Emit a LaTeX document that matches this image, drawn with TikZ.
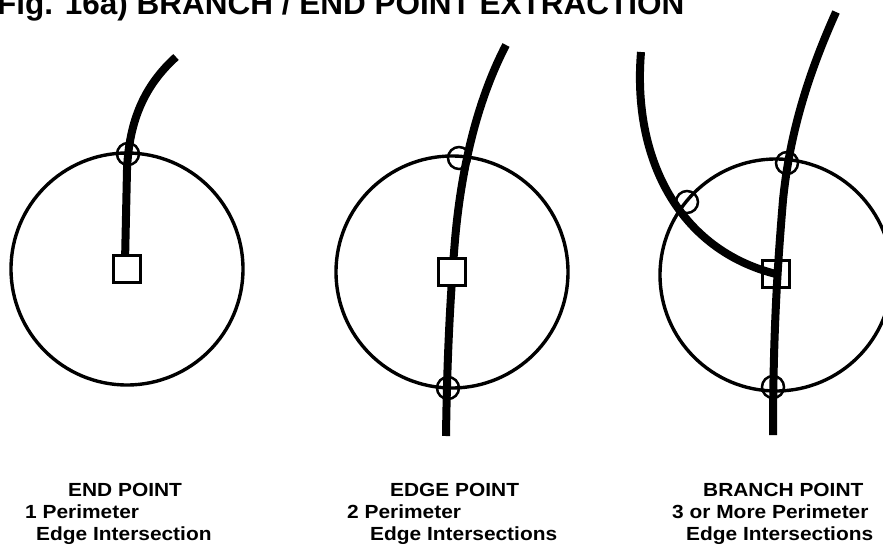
\documentclass[tikz,border=0pt]{standalone}
\usepackage{fontspec}
\usepackage{graphicx}
\newfontfamily\hv{Liberation Sans}
\newcommand\lbtext[1]{\scalebox{1.1}[1]{#1}}
\begin{document}
\begin{tikzpicture}[x=1pt,y=-1pt,
  ring/.style={circle, draw, line width=3.4pt, minimum size=232pt, inner sep=0pt},
  hitmark/.style={circle, draw, line width=2.5pt, minimum size=22pt, inner sep=0pt},
  sqbox/.style={rectangle, draw, line width=2.7pt, fill=white, minimum size=27pt, inner sep=0pt},
  curveline/.style={line width=8pt, line cap=butt},
  lbl/.style={anchor=base west, inner sep=0pt, font=\hv\bfseries\fontsize{19}{19}\selectfont},
  titlestyle/.style={anchor=base west, inner sep=0pt, font=\hv\bfseries\fontsize{31.5}{31.5}\selectfont}]
\useasboundingbox (0,0) rectangle (883,554);
\clip (0,0) rectangle (883,554);
\fill[white] (0,0) rectangle (883,554);

\node[titlestyle] (title) at (-3,14) {Fig. 16a) BRANCH / END POINT EXTRACTION};

% ---- left panel: end point
\node[ring] (c1) at (127,269) {};
\coordinate (l1top) at (176,57);
\draw[curveline] (125,262) -- (127,170) .. controls (129,120) and (145,85) .. (l1top);
\node[hitmark] (h1a) at (128,154) {};
\node[sqbox] (s1) at (127,269) {};

% ---- middle panel: edge point
\node[ring] (c2) at (452,272) {};
\coordinate (l2top) at (506,45);
\coordinate (l2mid) at (455,240);
\coordinate (l2bot) at (446,436);
\draw[curveline] (l2top) .. controls (480,95) and (462,160) .. (l2mid) .. controls (450,300) and (447,360) .. (l2bot);
\node[hitmark] (h2a) at (459,158) {};
\node[hitmark] (h2b) at (448,388) {};
\node[sqbox] (s2) at (452,272) {};

% ---- right panel: branch point
\node[ring] (c3) at (776,275) {};
\coordinate (l3top) at (836,12);
\coordinate (l3mid) at (783,200);
\coordinate (l3bot) at (773,435);
\coordinate (b3top) at (641,52);
\coordinate (b3end) at (776,274);
\draw[curveline] (l3top) .. controls (810,70) and (790,130) .. (l3mid) .. controls (778,260) and (773,330) .. (l3bot);
\draw[curveline] (b3top) .. controls (632,160) and (680,250) .. (b3end);
\node[hitmark] (h3a) at (787,163) {};
\node[hitmark] (h3b) at (773,387) {};
\node[hitmark] (h3c) at (687,202) {};
\node[sqbox, fill=none] (s3) at (776,274) {};

% ---- labels
\node[lbl] (t1a) at (68,496) {\lbtext{END POINT}};
\node[lbl] (t1b) at (25,518) {\lbtext{1 Perimeter}};
\node[lbl] (t1c) at (36,540) {\lbtext{Edge Intersection}};

\node[lbl] (t2a) at (390,496) {\lbtext{EDGE POINT}};
\node[lbl] (t2b) at (347,518) {\lbtext{2 Perimeter}};
\node[lbl] (t2c) at (370,540) {\lbtext{Edge Intersections}};

\node[lbl] (t3a) at (703,496) {\lbtext{BRANCH POINT}};
\node[lbl] (t3b) at (672,518) {\lbtext{3 or More Perimeter}};
\node[lbl] (t3c) at (686,540) {\lbtext{Edge Intersections}};
\end{tikzpicture}
\end{document}
